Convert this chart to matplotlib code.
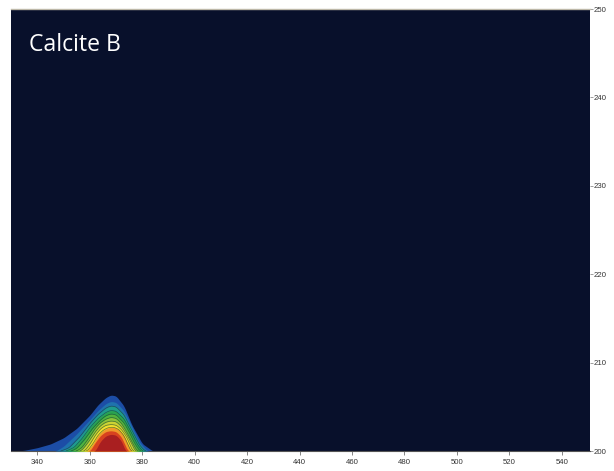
import numpy as np
import matplotlib
matplotlib.use("Agg")
import matplotlib.pyplot as plt

x_ticks = [340, 360, 380, 400, 420, 440, 460, 480, 500, 520, 540]
y_ticks = [200, 210, 220, 230, 240, 250]
title = "Calcite B"
band_colors = ["#1c4da6", "#1f73ad", "#1f9c8c", "#2aa350", "#52b33e", "#8fc23a",
               "#cdd235", "#f4df2c", "#ef9a2a", "#d8421f", "#a91f20"]

x0 = [332, 335, 340, 345, 350, 355, 360, 363, 366, 368, 370, 373, 376, 380, 384]
y0 = [0, 0.08, 0.38, 0.80, 1.50, 2.57, 4.07, 5.20, 6.04, 6.34, 6.23, 5.10, 2.94, 0.83, 0]
x1 = [347, 350, 355, 360, 363, 366, 368, 370, 373, 376, 379, 382]
y1 = [0, 0.55, 1.95, 3.55, 4.55, 5.35, 5.62, 5.5, 4.55, 2.75, 0.95, 0]
x2 = [349, 352, 356, 360, 363, 366, 368, 370, 373, 376, 379, 381]
y2 = [0, 0.35, 1.55, 3.1, 4.1, 4.85, 5.1, 5.0, 4.1, 2.35, 0.65, 0]
x3 = [351, 354, 357, 360, 363, 366, 368, 370, 373, 376, 378, 380]
y3 = [0, 0.4, 1.4, 2.65, 3.65, 4.35, 4.6, 4.5, 3.65, 2.0, 0.8, 0]
x4 = [353, 355, 358, 361, 364, 366, 368, 370, 373, 375, 377, 379]
y4 = [0, 0.3, 1.3, 2.55, 3.5, 3.98, 4.2, 4.1, 3.2, 2.15, 0.9, 0]
x5 = [355, 357, 359, 362, 364, 366, 368, 370, 372, 374, 376, 378]
y5 = [0, 0.4, 1.2, 2.55, 3.2, 3.6, 3.8, 3.7, 3.15, 2.2, 1.05, 0]
x6 = [356.5, 358, 360, 362, 364, 366, 368, 370, 372, 374, 376, 377.2]
y6 = [0, 0.45, 1.25, 2.15, 2.85, 3.25, 3.4, 3.32, 2.8, 1.9, 0.8, 0]
x7 = [358, 360, 362, 364, 366, 368, 370, 372, 374, 376.3]
y7 = [0, 0.75, 1.75, 2.5, 2.9, 3.0, 2.93, 2.45, 1.6, 0]
x8 = [359, 361, 363, 365, 367, 369, 371, 373, 375.6]
y8 = [0, 0.75, 1.75, 2.35, 2.65, 2.7, 2.45, 1.75, 0]
x9 = [360, 362, 364, 366, 368, 370, 372, 374.5]
y9 = [0, 0.95, 1.75, 2.2, 2.3, 2.2, 1.6, 0]
x10 = [362, 364, 366, 368, 370, 372, 373.6]
y10 = [0, 1.1, 1.7, 1.9, 1.8, 1.15, 0]
bands = [(x0, y0), (x1, y1), (x2, y2), (x3, y3), (x4, y4), (x5, y5),
         (x6, y6), (x7, y7), (x8, y8), (x9, y9), (x10, y10)]

fig = plt.figure(figsize=(6.14, 4.71), dpi=100, facecolor="white")
W, H = 614, 471
ax = fig.add_axes([11 / W, 1 - 451 / H, (590 - 11) / W, (451 - 9) / H], facecolor="#08102b")
ax.set_xlim(329.9, 550.8)
ax.set_ylim(200, 250)

def smooth(xs, ys):
    """Only rounds the corners of the hand-read outline for drawing."""
    grid = np.arange(xs[0] - 2, xs[-1] + 2, 0.1)
    vals = np.interp(grid, xs, ys, left=0, right=0)
    kernel = np.ones(15) / 15
    return grid, np.convolve(vals, kernel, mode="same")

for i, ((xs, ys), c) in enumerate(zip(bands, band_colors)):
    gx, gy = smooth(xs, ys)
    ax.fill_between(gx, 200, 200 + gy, color=c, lw=0, zorder=2 + i)
    if 2 <= i <= 8:
        ax.plot(gx[gy > 0.02], 200 + gy[gy > 0.02], color="#17402a", lw=0.5, alpha=0.65, zorder=2.5 + i)

ax.set_xticks(x_ticks)
ax.set_yticks(y_ticks)
ax.yaxis.tick_right()
ax.tick_params(axis="x", length=3, width=0.5, color="#555555", labelsize=5.6,
               labelcolor="#333333", pad=3)
ax.tick_params(axis="y", length=2, width=0.5, color="#777777", labelsize=5.6,
               labelcolor="#333333", pad=0.5)
for lab in ax.get_xticklabels() + ax.get_yticklabels():
    lab.set_family("Liberation Sans")
for side in ("left", "right"):
    ax.spines[side].set_visible(False)
ax.spines["top"].set_color("#bdb8a8")
ax.spines["top"].set_linewidth(1.0)
ax.spines["bottom"].set_color("#555555")
ax.spines["bottom"].set_linewidth(0.8)

ax.text(29 / W, 1 - 45 / H, title, transform=fig.transFigure, color="white",
        family="Open Sans", fontsize=16.6, va="center", ha="left")

fig.savefig("out.png", dpi=100)
